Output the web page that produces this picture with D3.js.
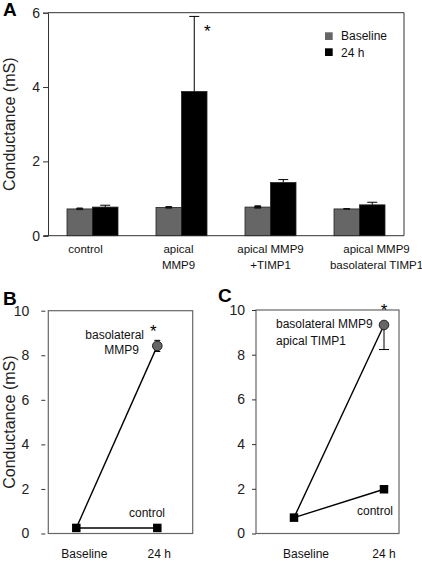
<!DOCTYPE html>
<html>
<head>
<meta charset="utf-8">
<script src="https://cdn.jsdelivr.net/npm/d3@7"></script>
<style>
  html, body { margin: 0; padding: 0; background: #fff; }
  svg { display: block; font-family: "Liberation Sans", Arial, Helvetica, sans-serif; }
</style>
</head>
<body>
<svg id="chart" width="422" height="563"></svg>
<script>
// ---------- Panel A data ----------
const groupsA = ["control", "apical MMP9", "apical MMP9 +TIMP1", "apical MMP9 basolateral TIMP1"];
const groupLabelsA = [["control"], ["apical", "MMP9"], ["apical MMP9", "+TIMP1"], ["apical MMP9", "basolateral TIMP1"]];
const seriesA = ["Baseline", "24 h"];
const baselineVals = [0.72, 0.76, 0.77, 0.72];
const baselineErr = [0.02, 0.02, 0.03, 0.01];
const h24Vals = [0.77, 3.88, 1.43, 0.83];
const h24Err = [0.05, 2.02, 0.08, 0.07];
const yTicksA = [0, 2, 4, 6];
const starA = [false, true, false, false];

// ---------- Panel B / C data ----------
const timepoints = ["Baseline", "24 h"];
const yTicksBC = [0, 2, 4, 6, 8, 10];
const bControl = [0.25, 0.25];
const bMMP9 = [0.25, 8.42];
const bMMP9Err = [0, 0.25];
const cControl = [0.71, 1.98];
const cMMP9 = [0.71, 9.33];
const cMMP9ErrLow = [0, 1.1];

const yLabel = "Conductance (mS)";
const colBase = "#666666", colH24 = "#000000";

const svg = d3.select("#chart");

// ================= Panel A =================
{
  const L = 48, R = 404, T = 12.7, B = 235.7;
  const x = d3.scaleBand().domain(groupsA).range([L, R]).padding(0);
  const xs = d3.scaleBand().domain(seriesA).range([0, x.bandwidth()]).paddingInner(0).paddingOuter(0.745);
  const y = d3.scaleLinear().domain([0, 6]).range([B, T]);
  const g = svg.append("g");

  g.append("path").attr("d", `M${L},${T}H${R}V${B}`).attr("fill", "none").attr("stroke", "#333").attr("stroke-width", 1);

  const yAxis = d3.axisLeft(y).tickValues(yTicksA).tickSize(5).tickPadding(3).tickFormat(d3.format("d"));
  const ya = g.append("g").attr("transform", `translate(${L},0)`).call(yAxis);
  ya.select(".domain").attr("stroke", "#333");
  ya.selectAll(".tick line").attr("stroke", "#333");
  ya.selectAll("text").attr("font-size", 14).attr("fill", "#222").attr("font-family", "Liberation Sans, Arial, sans-serif");

  const xAxis = d3.axisBottom(x).tickSize(0).tickFormat("");
  const xa = g.append("g").attr("transform", `translate(0,${B})`).call(xAxis);
  xa.select(".domain").attr("stroke", "#333").attr("d", `M${L - 4},0H${R}`);

  const rows = groupsA.map((gname, i) => ({ g: gname, i }));
  const series = [
    { key: "Baseline", vals: baselineVals, errs: baselineErr, col: colBase, cap: 6 },
    { key: "24 h", vals: h24Vals, errs: h24Err, col: colH24, cap: 10 }
  ];
  series.forEach(s => {
    g.selectAll(null).data(rows).enter().append("path")
      .attr("d", d => {
        const cx = x(d.g) + xs(s.key) + xs.bandwidth() / 2;
        const y0 = y(s.vals[d.i]), y1 = y(s.vals[d.i] + s.errs[d.i]);
        return `M${cx},${y0}V${y1}M${cx - s.cap / 2},${y1}H${cx + s.cap / 2}`;
      })
      .attr("stroke", "#000").attr("stroke-width", 1).attr("fill", "none");
    g.selectAll(null).data(rows).enter().append("rect")
      .attr("x", d => x(d.g) + xs(s.key))
      .attr("y", d => y(s.vals[d.i]))
      .attr("width", xs.bandwidth())
      .attr("height", d => B - y(s.vals[d.i]))
      .attr("fill", s.col).attr("stroke", "#222").attr("stroke-width", 0.8);
    if (s.key === "Baseline") {
      g.selectAll(null).data(rows).enter().append("path")
        .attr("d", d => {
          const cx = x(d.g) + xs(s.key) + xs.bandwidth() / 2;
          const y0 = y(s.vals[d.i] - s.errs[d.i]), y1 = y(s.vals[d.i] + s.errs[d.i]);
          return `M${cx - 3},${y1}H${cx + 3}V${y0}H${cx - 3}Z`;
        })
        .attr("fill", "#111").attr("stroke", "#111").attr("stroke-width", 0.8);
    }
  });

  g.selectAll(null).data(rows.filter(d => starA[d.i])).enter().append("text")
    .attr("x", d => x(d.g) + xs("24 h") + xs.bandwidth() / 2 + 13)
    .attr("y", d => y(h24Vals[d.i] + h24Err[d.i]) + 21)
    .attr("text-anchor", "middle").attr("font-size", 17).text("*");

  const labelDx = [-7, -3, 0, 17];
  rows.forEach(d => {
    const t = g.append("text").attr("text-anchor", "middle").attr("font-size", 11.5).attr("fill", "#111");
    groupLabelsA[d.i].forEach((ln, k) => {
      t.append("tspan").attr("x", x(d.g) + x.bandwidth() / 2 + labelDx[d.i]).attr("y", 253 + k * 15.5).text(ln);
    });
  });

  const leg = g.append("g");
  series.forEach((s, k) => {
    leg.append("rect").attr("x", 325).attr("y", 32.3 + k * 16).attr("width", 7.7).attr("height", 7.7).attr("fill", s.col);
    leg.append("text").attr("x", 341).attr("y", 40 + k * 16.5).attr("font-size", 12).attr("fill", "#111").text(s.key);
  });

  g.append("text").attr("transform", `translate(15,${(T + B) / 2}) rotate(-90)`)
    .attr("text-anchor", "middle").attr("font-size", 16).attr("fill", "#222").text(yLabel);
  g.append("text").attr("x", 3).attr("y", 16).attr("font-size", 19).attr("font-weight", "bold").text("A");
}

// ================= Panels B and C =================
function linePanel(opts) {
  const { L, R, T, B, letter, letterX, letterY, ctrl, mmp, errUp, errLow, p0, p1, tickGap, showYLabel, labelLines, labelPos, ctrlPos, xlabDx, starDx } = opts;
  const g = svg.append("g");
  const x = d3.scalePoint().domain(timepoints).range([L + p0, L + p1]);
  const y = d3.scaleLinear().domain([0, 10]).range([B, T]);

  g.append("rect").attr("x", L).attr("y", T).attr("width", R - L).attr("height", B - T)
    .attr("fill", "none").attr("stroke", "#666").attr("stroke-width", 1.2);

  const yAxis = d3.axisLeft(y).tickValues(yTicksBC).tickSize(4).tickPadding(tickGap ? 12 : 7).tickFormat(d3.format("d"));
  const ya = g.append("g").attr("transform", `translate(${L - (tickGap ? 3 : 0)},0)`).call(yAxis);
  ya.select(".domain").remove();
  ya.selectAll(".tick line").attr("stroke", "#333");
  ya.selectAll("text").attr("font-size", 14).attr("fill", "#222").attr("font-family", "Liberation Sans, Arial, sans-serif");

  timepoints.forEach((tp, i) => {
    g.append("text").attr("x", x(tp) + xlabDx[i]).attr("y", 558).attr("text-anchor", "middle")
      .attr("font-size", 12).attr("fill", "#111").text(tp);
  });

  const line = d3.line().x((d, i) => x(timepoints[i])).y(d => y(d));
  g.append("path").datum(ctrl).attr("d", line).attr("fill", "none").attr("stroke", "#000").attr("stroke-width", 1.4);
  g.append("path").datum(mmp).attr("d", line).attr("fill", "none").attr("stroke", "#000").attr("stroke-width", 1.4);

  const cx = x(timepoints[1]);
  const v = mmp[1];
  if (errLow[1] > 0) {
    g.append("path").attr("d", `M${cx},${y(v)}V${y(v - errLow[1])}M${cx - 5},${y(v - errLow[1])}H${cx + 5}`)
      .attr("stroke", "#000").attr("stroke-width", 1).attr("fill", "none");
  }
  if (errUp[1] > 0) {
    g.append("path").attr("d", `M${cx},${y(v - errUp[1])}V${y(v + errUp[1])}M${cx - 3},${y(v + errUp[1])}H${cx + 3}M${cx - 3},${y(v - errUp[1])}H${cx + 3}`)
      .attr("stroke", "#000").attr("stroke-width", 1).attr("fill", "none");
  }

  const sq = 8.5;
  ctrl.forEach((d, i) => {
    g.append("rect").attr("x", x(timepoints[i]) - sq / 2).attr("y", y(d) - sq / 2)
      .attr("width", sq).attr("height", sq).attr("fill", "#000");
  });
  g.append("circle").attr("cx", cx).attr("cy", y(v)).attr("r", 4.8)
    .attr("fill", "#666").attr("stroke", "#222").attr("stroke-width", 1);
  g.append("text").attr("x", cx + starDx).attr("y", y(v) - 9).attr("text-anchor", "middle")
    .attr("font-size", 17).text("*");

  labelLines.forEach((ln, k) => {
    g.append("text").attr("x", labelPos[k][0]).attr("y", labelPos[k][1]).attr("text-anchor", labelPos[k][2])
      .attr("font-size", 12).attr("fill", "#111").text(ln);
  });
  g.append("text").attr("x", ctrlPos[0]).attr("y", ctrlPos[1]).attr("text-anchor", "start")
    .attr("font-size", 12).attr("fill", "#111").text("control");

  if (showYLabel) {
    g.append("text").attr("transform", `translate(15,${(T + B) / 2}) rotate(-90)`)
      .attr("text-anchor", "middle").attr("font-size", 16).attr("fill", "#222").text(yLabel);
  }
  g.append("text").attr("x", letterX).attr("y", letterY).attr("font-size", 19).attr("font-weight", "bold").text(letter);
}

linePanel({
  L: 48.3, R: 192.7, T: 310.7, B: 533.5, letter: "B", letterX: 3, letterY: 305,
  ctrl: bControl, mmp: bMMP9, errUp: bMMP9Err, errLow: [0, 0],
  p0: 28, p1: 109, tickGap: true, showYLabel: true,
  labelLines: ["basolateral", "MMP9"],
  labelPos: [[144, 339, "end"], [139, 353.5, "end"]],
  ctrlPos: [129, 516.5], xlabDx: [8, 2], starDx: -4
});

linePanel({
  L: 256, R: 399, T: 310, B: 533.5, letter: "C", letterX: 218, letterY: 302,
  ctrl: cControl, mmp: cMMP9, errUp: [0, 0], errLow: cMMP9ErrLow,
  p0: 38, p1: 128, tickGap: false, showYLabel: false,
  labelLines: ["basolateral MMP9", "apical TIMP1"],
  labelPos: [[276, 327.5, "start"], [276, 344.5, "start"]],
  ctrlPos: [357, 515], xlabDx: [12, 0], starDx: 0
});
</script>
</body>
</html>
